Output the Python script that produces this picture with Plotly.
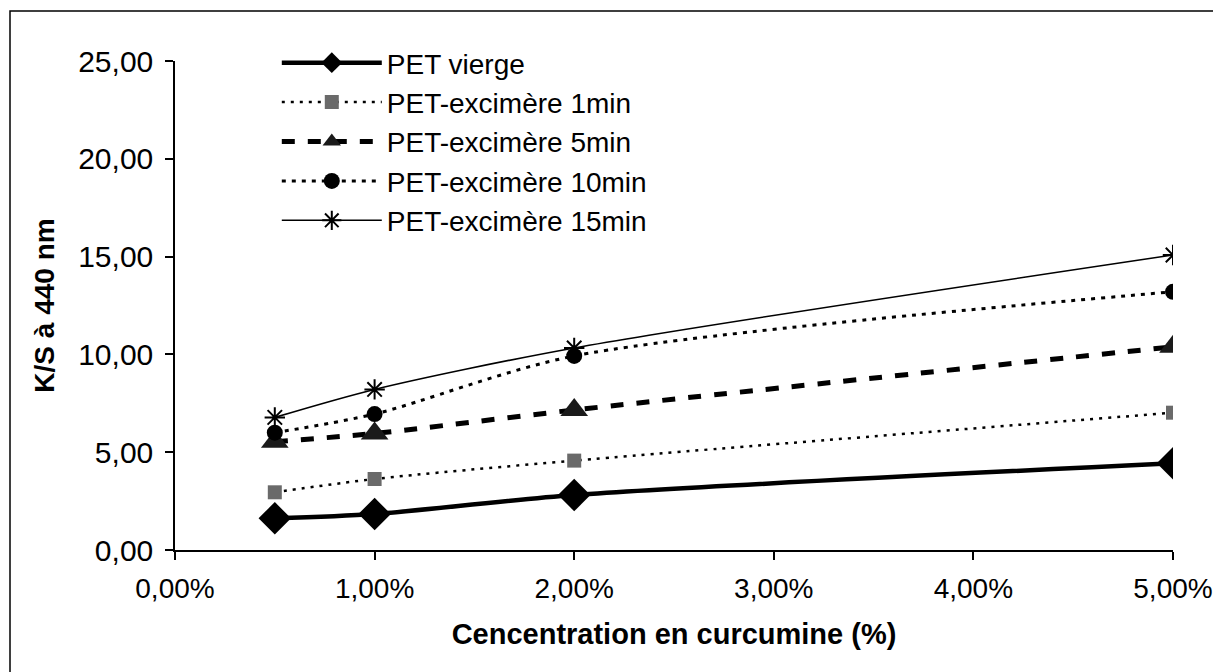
import plotly.graph_objects as go

concentration = [0.005, 0.01, 0.02, 0.05]
series_names = ["PET vierge", "PET-excimère 1min", "PET-excimère 5min",
                "PET-excimère 10min", "PET-excimère 15min"]
vierge = [1.62, 1.84, 2.81, 4.43]
exc_1min = [2.95, 3.63, 4.57, 7.02]
exc_5min = [5.54, 5.96, 7.16, 10.39]
exc_10min = [6.00, 6.95, 9.92, 13.20]
exc_15min = [6.78, 8.21, 10.33, 15.08]
y_ticks = [0, 5, 10, 15, 20, 25]
x_ticks = [0, 0.01, 0.02, 0.03, 0.04, 0.05]

styles = [
    dict(line=dict(color="black", width=4.5), marker=dict(symbol="diamond", size=25, color="black")),
    dict(line=dict(color="black", width=2.5, dash="3px,6px"), marker=dict(symbol="square", size=14, color="#6a6a6a")),
    dict(line=dict(color="black", width=5, dash="13px,13px"), marker=dict(symbol="triangle-up", size=24, color="#1a1a1a")),
    dict(line=dict(color="black", width=3, dash="4px,6px"), marker=dict(symbol="circle", size=16, color="black")),
    dict(line=dict(color="black", width=1.6), marker=dict(symbol="asterisk-open", size=17, color="black", line=dict(color="black", width=2))),
]
all_values = [vierge, exc_1min, exc_5min, exc_10min, exc_15min]

fig = go.Figure()
for name, vals, st in zip(series_names, all_values, styles):
    fig.add_trace(go.Scatter(
        x=concentration, y=vals, name=name, mode="lines+markers",
        line=dict(shape="spline", smoothing=0.8, **st["line"]),
        marker=st["marker"],
    ))

font_family = "Liberation Sans, Arial, sans-serif"
fig.update_layout(
    width=1213, height=672,
    margin=dict(l=175, r=40, t=61, b=122),
    paper_bgcolor="white", plot_bgcolor="white",
    separators=",.",
    font=dict(family=font_family, size=30, color="black"),
    showlegend=True,
    legend=dict(
        x=0.102, y=1.047, xanchor="left", yanchor="top",
        bgcolor="rgba(0,0,0,0)", borderwidth=0,
        font=dict(size=28, family=font_family),
        itemwidth=100,
    ),
    xaxis=dict(
        range=[0, 0.05], tickvals=x_ticks, tickformat=".2%", automargin=False,
        ticklabeloverflow="allow",
        showgrid=False, zeroline=False, showline=True, linecolor="black", linewidth=1.5,
        ticks="outside", ticklen=8, tickcolor="black", tickwidth=1.5,
        tickfont=dict(size=28), ticklabelstandoff=5,
        title=dict(text="<b>Cencentration en curcumine (%)</b>",
                   font=dict(family=font_family, size=29),
                   standoff=20),
    ),
    yaxis=dict(
        range=[0, 25], tickvals=y_ticks, tickformat=".2f", automargin=False,
        ticklabeloverflow="allow",
        showgrid=False, zeroline=False, showline=True, linecolor="black", linewidth=1.5,
        ticks="outside", ticklen=8, tickcolor="black", tickwidth=1.5,
        tickfont=dict(size=30), ticklabelstandoff=6,
        title=dict(text="<b>K/S à 440 nm</b>",
                   font=dict(family=font_family, size=28),
                   standoff=15),
    ),
)

# outer chart frame (right and bottom sides fall outside the picture, as in the reference)
fig.add_shape(type="rect", xref="paper", yref="paper",
              x0=(10 - 175) / 998, x1=(1225 - 175) / 998,
              y0=(550 - 685) / 489, y1=(550 - 11) / 489,
              line=dict(color="black", width=1.5), fillcolor="rgba(0,0,0,0)", layer="below")

fig.write_html(
    "out.html",
    config={"displayModeBar": False},
    post_script="document.body.style.margin='0';document.body.style.overflow='hidden';",
)
